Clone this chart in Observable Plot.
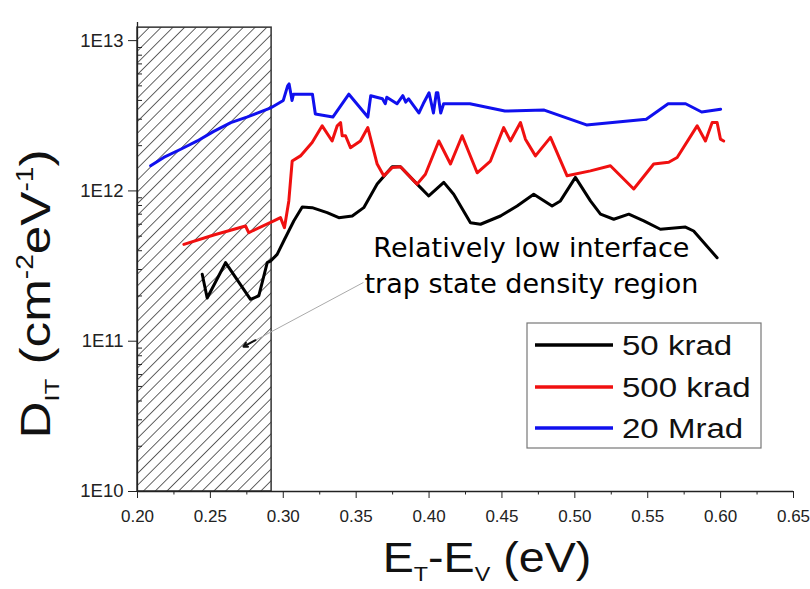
<!DOCTYPE html>
<html>
<head>
<meta charset="utf-8">
<script src="https://cdn.jsdelivr.net/npm/d3@7"></script>
<script src="https://cdn.jsdelivr.net/npm/@observablehq/plot@0.6"></script>
<style>
  html, body { margin: 0; padding: 0; background: #fff; }
  #chart { width: 810px; height: 589px; }
</style>
</head>
<body>
<div id="chart"></div>
<script>
// ---- Data ----
const seriesNames = ["50 krad", "500 krad", "20 Mrad"];
const seriesColors = ["#000000", "#f01010", "#1010ee"];

const x50k = [0.2444, 0.2478, 0.2604, 0.2775, 0.2832, 0.2890, 0.2912, 0.2958, 0.3003, 0.3072, 0.3130, 0.3198, 0.3301, 0.3381, 0.3473, 0.3552, 0.3644, 0.3747, 0.3804, 0.3918, 0.3998, 0.4101, 0.4169, 0.4284, 0.4353, 0.4490, 0.4604, 0.4718, 0.4844, 0.4901, 0.5004, 0.5107, 0.5176, 0.5267, 0.5370, 0.5473, 0.5587, 0.5759, 0.5815, 0.5976];
const y50k = [2.79e11, 1.94e11, 3.33e11, 1.90e11, 2.00e11, 3.33e11, 3.41e11, 3.78e11, 4.64e11, 6.31e11, 7.82e11, 7.74e11, 7.17e11, 6.64e11, 6.81e11, 7.74e11, 1.11e12, 1.45e12, 1.45e12, 1.11e12, 9.26e11, 1.14e12, 9.50e11, 6.15e11, 6.00e11, 6.81e11, 7.94e11, 9.50e11, 7.94e11, 8.58e11, 1.23e12, 8.58e11, 7.00e11, 6.48e11, 7.00e11, 6.31e11, 5.56e11, 5.75e11, 5.41e11, 3.59e11];

const x500k = [0.2318, 0.2523, 0.2741, 0.2763, 0.2787, 0.2935, 0.2981, 0.3008, 0.3038, 0.3061, 0.3118, 0.3198, 0.3267, 0.3335, 0.3370, 0.3393, 0.3404, 0.3427, 0.3461, 0.3529, 0.3580, 0.3644, 0.3689, 0.3747, 0.3804, 0.3918, 0.3975, 0.4067, 0.4147, 0.4227, 0.4330, 0.4421, 0.4512, 0.4558, 0.4627, 0.4661, 0.4730, 0.4833, 0.4947, 0.5107, 0.5244, 0.5404, 0.5541, 0.5644, 0.5702, 0.5839, 0.5896, 0.5942, 0.5976, 0.5999, 0.6021];
const y500k = [4.41e11, 5.09e11, 5.84e11, 5.27e11, 5.41e11, 6.31e11, 6.64e11, 5.69e11, 8.58e11, 1.58e12, 1.71e12, 2.10e12, 2.71e12, 2.15e12, 2.71e12, 2.85e12, 2.33e12, 2.33e12, 1.94e12, 2.15e12, 2.64e12, 1.51e12, 1.26e12, 1.43e12, 1.45e12, 1.11e12, 1.29e12, 2.15e12, 1.51e12, 2.33e12, 1.32e12, 1.58e12, 2.64e12, 2.15e12, 2.85e12, 2.21e12, 1.71e12, 2.27e12, 1.26e12, 1.36e12, 1.47e12, 1.03e12, 1.51e12, 1.55e12, 1.67e12, 2.71e12, 2.15e12, 2.85e12, 2.85e12, 2.21e12, 2.15e12];

const x20M = [0.209, 0.218, 0.230, 0.241, 0.252, 0.264, 0.275, 0.291, 0.300, 0.303, 0.304, 0.306, 0.307, 0.320, 0.322, 0.334, 0.345, 0.358, 0.360, 0.368, 0.370, 0.371, 0.378, 0.382, 0.384, 0.386, 0.393, 0.396, 0.400, 0.403, 0.405, 0.406, 0.408, 0.410, 0.411, 0.428, 0.452, 0.479, 0.508, 0.549, 0.564, 0.576, 0.587, 0.600];
const y20M = [1.47e12, 1.67e12, 1.90e12, 2.15e12, 2.48e12, 2.85e12, 3.10e12, 3.55e12, 4.00e12, 5.00e12, 5.15e12, 4.00e12, 4.40e12, 4.40e12, 3.25e12, 3.10e12, 4.40e12, 3.10e12, 4.30e12, 4.10e12, 3.80e12, 4.20e12, 3.80e12, 4.30e12, 3.90e12, 4.10e12, 3.30e12, 3.80e12, 4.50e12, 3.30e12, 4.50e12, 4.50e12, 3.30e12, 3.80e12, 3.80e12, 3.80e12, 3.40e12, 3.45e12, 2.75e12, 3.00e12, 3.80e12, 3.80e12, 3.35e12, 3.50e12];

const xMajorTicks = [0.20, 0.25, 0.30, 0.35, 0.40, 0.45, 0.50, 0.55, 0.60, 0.65];
const xMinorTicks = [0.225, 0.275, 0.325, 0.375, 0.425, 0.475, 0.525, 0.575, 0.625];
const yMajorTicks = [1e10, 1e11, 1e12, 1e13];
const yTickLabels = ["1E10", "1E11", "1E12", "1E13"];
const yMinorTicks = [2e10,3e10,4e10,5e10,6e10,7e10,8e10,9e10, 2e11,3e11,4e11,5e11,6e11,7e11,8e11,9e11, 2e12,3e12,4e12,5e12,6e12,7e12,8e12,9e12];

// shaded region (x1, x2, y1, y2)
const regionX = [0.2, 0.292];
const regionY = [1e10, 1.22e13];

// annotation
const noteLines = ["Relatively low interface", "trap state density region"];
const noteX = [0.4702, 0.4702];
const noteY = [4.15e11, 2.39e11];
const arrowFrom = [0.355, 2.46e11];
const arrowTo = [0.2727, 9.2e10];

// ---- Build table ----
const rows = [];
[[x50k, y50k], [x500k, y500k], [x20M, y20M]].forEach(([xs, ys], i) => {
  xs.forEach((x, j) => rows.push({series: seriesNames[i], x, y: ys[j]}));
});
const regionData = [{x1: regionX[0], x2: regionX[1], y1: regionY[0], y2: regionY[1]}];
const noteData = noteLines.map((t, i) => ({t, x: noteX[i], y: noteY[i]}));
const f = 0.1;
const arrowData = [{x1: arrowFrom[0], y1: arrowFrom[1], x2: arrowTo[0], y2: arrowTo[1]}];
const arrowHead = [{
  x1: arrowTo[0] + f * (arrowFrom[0] - arrowTo[0]),
  y1: Math.exp(Math.log(arrowTo[1]) + f * (Math.log(arrowFrom[1]) - Math.log(arrowTo[1]))),
  x2: arrowTo[0], y2: arrowTo[1]
}];

const W = 810, H = 589;
const mL = 137, mR = 17, mT = 22, mB = 98;

const chart = Plot.plot({
  width: W, height: H,
  marginLeft: mL, marginRight: mR, marginTop: mT, marginBottom: mB,
  style: {fontFamily: "'Liberation Sans', Arial, sans-serif", background: "#fff", color: "#222"},
  x: {domain: [0.2, 0.65]},
  y: {type: "log", domain: [1e10, 1.32e13]},
  color: {domain: seriesNames, range: seriesColors},
  marks: [
    Plot.rect(regionData, {x1: "x1", x2: "x2", y1: "y1", y2: "y2", fill: "url(#hatch)", stroke: "#333", strokeWidth: 1.5}),
    Plot.link(arrowData, {x1: "x1", y1: "y1", x2: "x2", y2: "y2", stroke: "#aaa", strokeWidth: 1}),
    Plot.arrow(arrowHead, {x1: "x1", y1: "y1", x2: "x2", y2: "y2", stroke: "#111", strokeWidth: 2, headLength: 9}),
    Plot.line(rows, {x: "x", y: "y", z: "series", stroke: "series", strokeWidth: 3, strokeLinejoin: "round", strokeLinecap: "round"}),
    Plot.text(noteData, {x: "x", y: "y", text: "t", fontSize: 27, fontFamily: "'DejaVu Sans', Verdana, sans-serif", fill: "#000", textAnchor: "middle"}),
    Plot.ruleX([0.2], {stroke: "#222", strokeWidth: 1.3}),
    Plot.ruleY([1e10], {stroke: "#222", strokeWidth: 1.3}),
    Plot.axisX({ticks: xMajorTicks, tickFormat: d3.format(".2f"), tickSize: 7, tickPadding: 11, fontSize: 17, label: null, stroke: "#222"}),
    Plot.axisX({ticks: xMinorTicks, tickSize: 3.5, tickFormat: () => "", label: null, stroke: "#222"}),
    Plot.axisY({ticks: yMajorTicks, tickFormat: d => yTickLabels[yMajorTicks.indexOf(d)], tickSize: 9, tickPadding: 5, fontSize: 18.5, label: null, stroke: "#222"}),
    Plot.tickY(yMinorTicks, {y: d => d, insetRight: W - mL - mR - 5, stroke: "#222", strokeWidth: 1})
  ]
});

const svg = d3.select(chart);
// hatch pattern
const defs = svg.insert("defs", ":first-child");
defs.append("pattern")
  .attr("id", "hatch")
  .attr("patternUnits", "userSpaceOnUse")
  .attr("width", 8.3).attr("height", 8.3)
  .attr("patternTransform", "rotate(45)")
  .call(p => {
    p.append("rect").attr("width", 8.3).attr("height", 8.3).attr("fill", "#fff");
    p.append("line").attr("x1", 0).attr("y1", 0).attr("x2", 0).attr("y2", 8.3)
      .attr("stroke", "#222").attr("stroke-width", 1.4);
  });

const FONT = "'Liberation Sans', Arial, sans-serif";

// x axis label
const xl = svg.append("text")
  .attr("transform", "translate(487,572) scale(1.11,1)")
  .attr("text-anchor", "middle")
  .attr("font-family", FONT)
  .attr("font-size", 42).attr("fill", "#111");
xl.append("tspan").text("E");
xl.append("tspan").attr("font-size", 21).attr("dy", 9).text("T");
xl.append("tspan").attr("dy", -9).text("-E");
xl.append("tspan").attr("font-size", 21).attr("dy", 9).text("V");
xl.append("tspan").attr("dy", -9).text(" (eV)");

// y axis label
const yl = svg.append("text")
  .attr("transform", "translate(50,294) rotate(-90) scale(1.22,1)")
  .attr("text-anchor", "middle")
  .attr("font-family", FONT)
  .attr("font-size", 42).attr("fill", "#111");
yl.append("tspan").text("D");
yl.append("tspan").attr("font-size", 21).attr("dy", 9).text("IT");
yl.append("tspan").attr("dy", -9).text(" (cm");
yl.append("tspan").attr("font-size", 23).attr("dy", -17).text("-2");
yl.append("tspan").attr("dy", 17).text("eV");
yl.append("tspan").attr("font-size", 23).attr("dy", -17).text("-1");
yl.append("tspan").attr("dy", 17).text(")");

// legend
const lg = svg.append("g").attr("font-family", FONT).attr("text-anchor", "start");
lg.append("rect").attr("x", 527).attr("y", 323).attr("width", 234).attr("height", 125)
  .attr("fill", "#fff").attr("stroke", "#777").attr("stroke-width", 1.2);
const legY = [345, 387, 428];
seriesNames.forEach((name, i) => {
  lg.append("line").attr("x1", 535).attr("x2", 613).attr("y1", legY[i]).attr("y2", legY[i])
    .attr("stroke", seriesColors[i]).attr("stroke-width", 3.5);
  lg.append("text")
    .attr("transform", `translate(622,${legY[i] + 10}) scale(1.18,1)`)
    .attr("text-anchor", "start")
    .attr("font-size", 28).attr("fill", "#111").text(name);
});

document.getElementById("chart").appendChild(chart);
</script>
</body>
</html>
